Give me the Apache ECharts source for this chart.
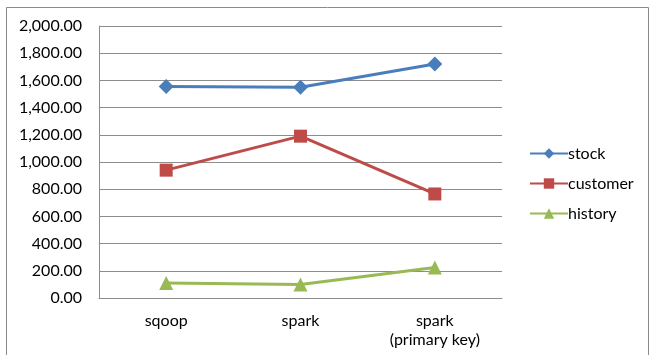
<!DOCTYPE html>
<html>
<head>
<meta charset="utf-8">
<script src="https://cdn.jsdelivr.net/npm/echarts@6/dist/echarts.min.js"></script>
<style>
  html, body { margin: 0; padding: 0; background: #ffffff; }
  #chart { width: 650px; height: 355px; }
</style>
</head>
<body>
<div id="chart"></div>
<script>
// Load times per method for each table
const categories = ['sqoop', 'spark', 'spark\n(primary key)'];
const stockValues = [1555, 1550, 1720];
const customerValues = [940, 1190, 765];
const historyValues = [110, 100, 225];
const yTicks = { min: 0, max: 2000, interval: 200 };

const fontFamily = 'Lato, "Open Sans", sans-serif';
const chart = echarts.init(document.getElementById('chart'), null, { renderer: 'canvas' });

function lineSeries(name, data, color, symbol, size) {
  return {
    name: name,
    type: 'line',
    data: data,
    symbol: symbol,
    symbolSize: size,
    lineStyle: { color: color, width: 3 },
    itemStyle: { color: color },
    emphasis: { disabled: true },
    animation: false
  };
}

chart.setOption({
  animation: false,
  backgroundColor: '#ffffff',
  graphic: [{
    type: 'rect',
    shape: { x: 6.5, y: 7.5, width: 642, height: 360 },
    style: { fill: 'none', stroke: '#8a8a8a', lineWidth: 1 },
    silent: true
  }],
  grid: { left: 99, right: 148, top: 26, bottom: 57 },
  legend: {
    orient: 'vertical',
    left: 524,
    top: 139,
    itemGap: 11,
    itemWidth: 38,
    itemHeight: 13,
    textStyle: { fontFamily: fontFamily, fontSize: 16, lineHeight: 19, color: '#000', padding: [0, 0, 0, -5] },
    data: ['stock', 'customer', 'history']
  },
  xAxis: {
    type: 'category',
    data: categories,
    boundaryGap: true,
    axisLine: { lineStyle: { color: '#8c8c8c', width: 1 } },
    axisTick: { show: false },
    axisLabel: { color: '#000', fontFamily: fontFamily, fontSize: 16, margin: 13, lineHeight: 19 }
  },
  yAxis: {
    type: 'value',
    min: yTicks.min,
    max: yTicks.max,
    interval: yTicks.interval,
    axisLine: { show: true, lineStyle: { color: '#8c8c8c', width: 1 } },
    axisTick: { show: false },
    splitLine: { lineStyle: { color: '#8c8c8c', width: 1 } },
    axisLabel: {
      color: '#000', fontFamily: fontFamily, fontSize: 16, margin: 17,
      formatter: v => v.toLocaleString('en-US', { minimumFractionDigits: 2, maximumFractionDigits: 2 })
    }
  },
  series: [
    lineSeries('stock', stockValues, '#4a7ebb', 'diamond', 15),
    lineSeries('customer', customerValues, '#be4b48', 'rect', 13),
    lineSeries('history', historyValues, '#98b954', 'triangle', 14)
  ]
});
</script>
</body>
</html>
